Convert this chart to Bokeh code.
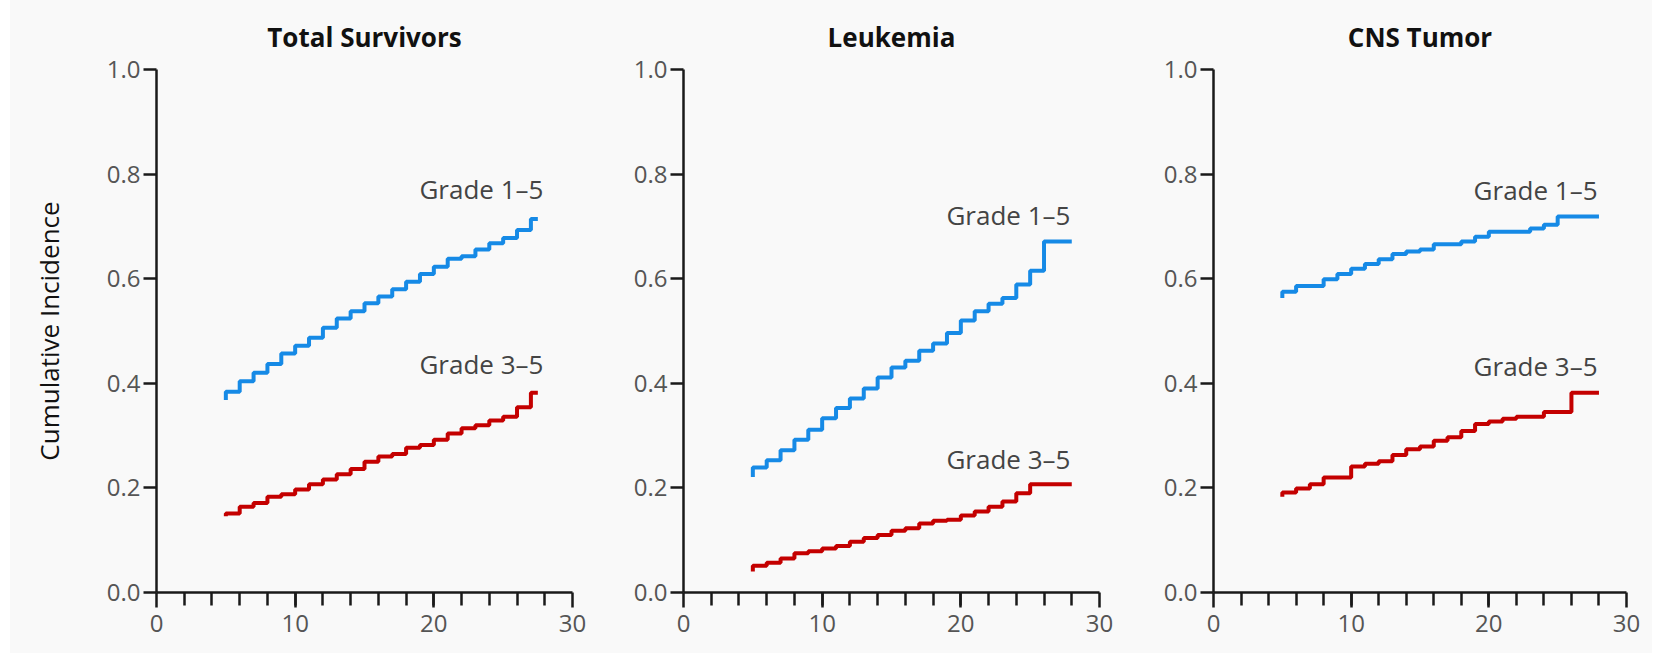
from bokeh.plotting import figure
from bokeh.layouts import row, Spacer
from bokeh.models import Range1d, FixedTicker, PrintfTickFormatter
from bokeh.core.properties import value
from bokeh.embed import file_html
from bokeh.resources import INLINE

# ---------------- data ----------------
panel_titles = ["Total Survivors", "Leukemia", "CNS Tumor"]
label_high = "Grade 1\u20135"
label_low = "Grade 3\u20135"

# Total Survivors
ts_g15_years = list(range(5, 28))
ts_g15_vals = [0.384, 0.404, 0.420, 0.437, 0.457, 0.472, 0.487, 0.506, 0.524, 0.538,
               0.553, 0.566, 0.580, 0.594, 0.609, 0.623, 0.638, 0.643, 0.656, 0.668,
               0.678, 0.693, 0.714]
ts_g15_first = 0.368
ts_g15_end = 27.5
ts_g35_years = list(range(5, 28))
ts_g35_vals = [0.151, 0.164, 0.171, 0.183, 0.188, 0.197, 0.207, 0.216, 0.226, 0.236,
               0.250, 0.260, 0.265, 0.277, 0.282, 0.292, 0.304, 0.314, 0.320, 0.329,
               0.336, 0.354, 0.382]
ts_g35_first = 0.146
ts_g35_end = 27.5

# Leukemia
lk_g15_years = list(range(5, 27))
lk_g15_vals = [0.239, 0.253, 0.272, 0.292, 0.311, 0.333, 0.353, 0.371, 0.390, 0.411,
               0.430, 0.443, 0.462, 0.476, 0.496, 0.520, 0.538, 0.552, 0.563, 0.589,
               0.615, 0.671]
lk_g15_first = 0.221
lk_g15_end = 28
lk_g35_years = list(range(5, 26))
lk_g35_vals = [0.051, 0.057, 0.065, 0.075, 0.079, 0.084, 0.089, 0.097, 0.104, 0.110,
               0.118, 0.123, 0.132, 0.137, 0.139, 0.147, 0.155, 0.164, 0.174, 0.190,
               0.207]
lk_g35_first = 0.040
lk_g35_end = 28

# CNS Tumor
cns_g15_years = list(range(5, 26))
cns_g15_vals = [0.575, 0.586, 0.586, 0.599, 0.609, 0.619, 0.628, 0.637, 0.647, 0.652,
                0.656, 0.666, 0.666, 0.671, 0.680, 0.690, 0.690, 0.690, 0.696, 0.703,
                0.719]
cns_g15_first = 0.563
cns_g15_end = 28
cns_g35_years = list(range(5, 27))
cns_g35_vals = [0.191, 0.199, 0.207, 0.220, 0.220, 0.241, 0.246, 0.251, 0.263, 0.274,
                0.279, 0.290, 0.297, 0.309, 0.322, 0.327, 0.332, 0.336, 0.336, 0.345,
                0.345, 0.382]
cns_g35_first = 0.183
cns_g35_end = 28

x_major = [0, 10, 20, 30]
x_minor = list(range(2, 30, 2))
y_major = [0.0, 0.2, 0.4, 0.6, 0.8, 1.0]

# ---------------- style ----------------
FONT = "Open Sans"
BG = "#f9f9f9"
BLUE = "#168ae6"
RED = "#c40000"
AXIS = "#1a1a1a"

series = [
    ((ts_g15_years, ts_g15_vals, ts_g15_first, ts_g15_end),
     (ts_g35_years, ts_g35_vals, ts_g35_first, ts_g35_end)),
    ((lk_g15_years, lk_g15_vals, lk_g15_first, lk_g15_end),
     (lk_g35_years, lk_g35_vals, lk_g35_first, lk_g35_end)),
    ((cns_g15_years, cns_g15_vals, cns_g15_first, cns_g15_end),
     (cns_g35_years, cns_g35_vals, cns_g35_first, cns_g35_end)),
]

borders = [(146, 40), (71, 40), (74, 26)]
frame_widths = [416, 416, 413]
label_offsets = [(-30, -29), (-27, -25), (-26, -27)]


def step_arrays(years, vals, first, end):
    xs = [years[0]] + list(years) + [end]
    ys = [first] + list(vals) + [vals[-1]]
    return xs, ys


figs = []
for i in range(3):
    bl, br = borders[i]
    p = figure(frame_width=frame_widths[i], frame_height=523,
               min_border_left=bl, min_border_right=br,
               min_border_top=69, min_border_bottom=61,
               x_range=Range1d(0, 30), y_range=Range1d(0, 1),
               output_backend="svg", toolbar_location=None,
               background_fill_color=BG, border_fill_color=BG)
    p.outline_line_color = None
    p.grid.visible = False

    p.title.text = panel_titles[i]
    p.title.align = "center"
    p.title.text_font = FONT
    p.title.text_font_size = "26px"
    p.title.text_font_style = "bold"
    p.title.text_color = "#111111"
    p.title.standoff = 30

    xa = p.xaxis[0]
    xa.ticker = FixedTicker(ticks=x_major, minor_ticks=x_minor)
    xa.axis_line_color = AXIS
    xa.axis_line_width = 2.5
    xa.major_tick_line_color = AXIS
    xa.major_tick_line_width = 2.5
    xa.minor_tick_line_color = AXIS
    xa.minor_tick_line_width = 2.5
    xa.major_tick_in = 0
    xa.major_tick_out = 15
    xa.minor_tick_in = 0
    xa.minor_tick_out = 13
    xa.major_label_text_font = FONT
    xa.major_label_text_font_size = "24px"
    xa.major_label_text_color = "#555555"
    xa.major_label_standoff = 7

    ya = p.yaxis[0]
    ya.ticker = FixedTicker(ticks=y_major, minor_ticks=[])
    ya.formatter = PrintfTickFormatter(format="%.1f")
    ya.axis_line_color = AXIS
    ya.axis_line_width = 2.5
    ya.major_tick_line_color = AXIS
    ya.major_tick_line_width = 2.5
    ya.major_tick_in = 0
    ya.major_tick_out = 13
    ya.minor_tick_line_color = None
    ya.major_label_text_font = FONT
    ya.major_label_text_font_size = "24px"
    ya.major_label_text_color = "#555555"
    ya.major_label_standoff = 3
    if i == 0:
        ya.axis_label = "Cumulative Incidence"
        ya.axis_label_text_font = FONT
        ya.axis_label_text_font_size = "26px"
        ya.axis_label_text_font_style = "normal"
        ya.axis_label_text_color = "#111111"
        ya.axis_label_standoff = 37

    hi, lo = series[i]
    for k, ((years, vals, first, end), color, lab) in enumerate(
            ((hi, BLUE, label_high), (lo, RED, label_low))):
        xs, ys = step_arrays(years, vals, first, end)
        p.step(xs, ys, mode="after", line_color=color, line_width=4)
        p.text(x=[27.9], y=[vals[-1]], text=[lab], text_align="right",
               text_baseline="alphabetic", y_offset=label_offsets[i][k],
               text_font=value(FONT), text_font_size="26px", text_color="#444444")
    figs.append(p)

panels = row(*figs, spacing=0, styles={"background-color": BG})
layout = row(Spacer(width=10), panels, spacing=0)
open("out.html", "w").write(file_html(layout, INLINE))
